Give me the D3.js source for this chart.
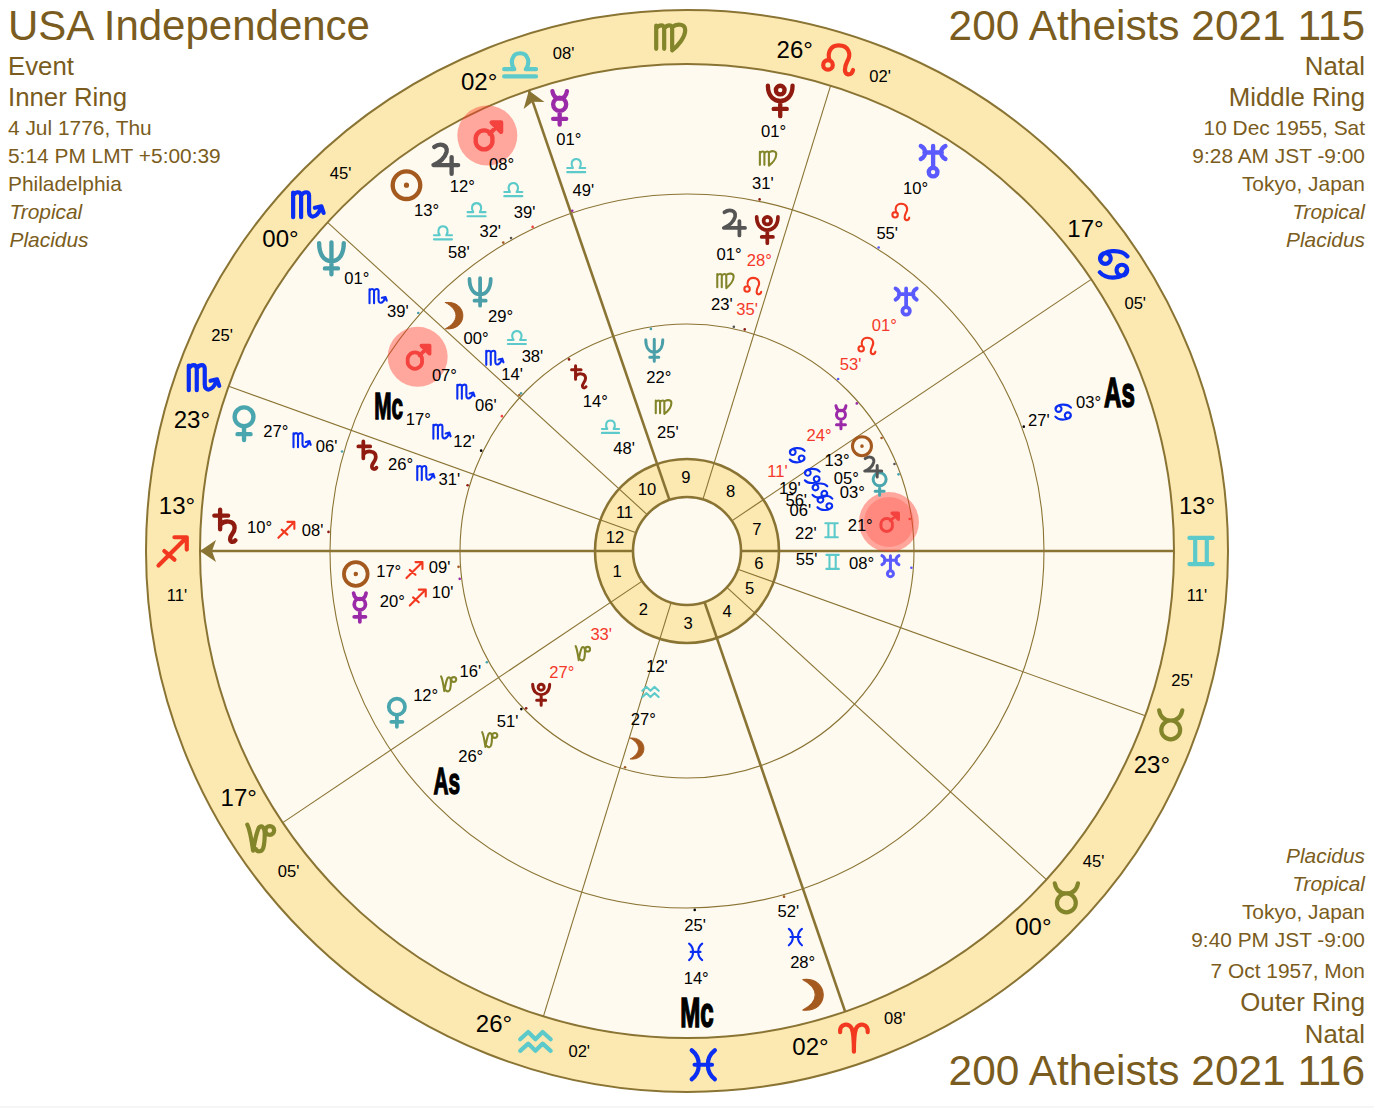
<!DOCTYPE html>
<html><head><meta charset="utf-8">
<script src="https://cdn.jsdelivr.net/npm/d3@7"></script>
<style>
html,body{margin:0;padding:0;background:#fff}
svg{display:block}
text{font-family:"Liberation Sans",Arimo,Helvetica,sans-serif}
</style></head><body><svg id="c" width="1374" height="1108"></svg>
<script>
// ---------- data ----------
const signNames=["Ari","Tau","Gem","Can","Leo","Vir","Lib","Sco","Sag","Cap","Aqu","Pis"];
const houseNumbers=[1,2,3,4,5,6,7,8,9,10,11,12];
const cuspSigns=["Sag","Cap","Aqu","Ari","Tau","Tau","Gem","Can","Leo","Lib","Sco","Sco"];
const cuspDegrees=[13,17,26,2,0,23,13,17,26,2,0,23];
const cuspMinutes=[11,5,2,8,45,25,11,5,2,8,45,25];
const interceptedSigns=["Vir","Pis"];

const outerBodies=["Nep","Ven","Sat","Sun","Jup","Mar","Mer","Plu","Ura","As","Mc","Moo"];
const outerSigns=["Sco","Sco","Sag","Lib","Lib","Lib","Lib","Vir","Leo","Can","Pis","Pis"];
const outerDegrees=[1,27,10,13,12,8,1,1,10,3,14,28];
const outerMinutes=[39,6,8,58,32,39,49,31,55,27,25,52];
const outerRetro=[];
const outerSpread=[2,0,0,6.7,2.3,0.2,-2.6,0,0,0,0,0];

const middleBodies=["Mar","Moo","Nep","Mc","Sat","Sun","Mer","Ven","As","Plu","Jup","Ura"];
const middleSigns=["Sco","Sco","Lib","Sco","Sco","Sag","Sag","Cap","Cap","Leo","Vir","Leo"];
const middleDegrees=[7,0,29,17,26,17,20,12,26,28,1,1];
const middleMinutes=[6,14,38,12,31,9,10,16,51,35,23,53];
const middleRetro=["Plu","Ura"];
const middleSpread=[0.3,-2.2,-7.9,0,0,0,2.8,0,0,0.6,3.7,0];

const innerBodies=["Nep","Sat","Moo","Plu","Mar","Ura","Ven","Jup","Sun","Mer"];
const innerSigns=["Vir","Lib","Aqu","Cap","Gem","Gem","Can","Can","Can","Can"];
const innerDegrees=[22,14,27,27,21,8,3,5,13,24];
const innerMinutes=[25,48,12,33,22,55,6,56,19,11];
const innerRetro=["Plu","Mer"];
const innerSpread=[0,0,1.5,0,0,0,-0.7,1.7,0.8,0];

const leftLines=["USA Independence","Event","Inner Ring","4 Jul 1776, Thu","5:14 PM LMT +5:00:39","Philadelphia","Tropical","Placidus"];
const topRightLines=["200 Atheists 2021 115","Natal","Middle Ring","10 Dec 1955, Sat","9:28 AM JST -9:00","Tokyo, Japan","Tropical","Placidus"];
const bottomRightLines=["Placidus","Tropical","Tokyo, Japan","9:40 PM JST -9:00","7 Oct 1957, Mon","Outer Ring","Natal","200 Atheists 2021 116"];

// ---------- style / layout ----------
const svg=d3.select("#c");
const cx=687,cy=551;
const R={outer:541,zod:487,mid:357,inner:227,house:92,hole:54};
const LINE="#8a7434",RING="#fce8b1",CREAM="#fffaef",TITLE="#7a5c20",RED="#f4392b";
const elementColor=["#f2391f","#83852b","#5ccaca","#0a2df2"];
const bodyColor={Sun:"#a4591f",Moo:"#a4591f",Mer:"#9a2aa8",Ven:"#4aa6ae",Mar:"#f4423f",Jup:"#555555",Sat:"#8f1a10",Ura:"#5a5aff",Nep:"#4a9fa8",Plu:"#8f1a10",As:"#000",Mc:"#000"};

const signIndex=s=>signNames.indexOf(s);
const lon=(s,d,m)=>signIndex(s)*30+d+m/60;
const asc=lon(cuspSigns[0],cuspDegrees[0],cuspMinutes[0]);
const angle=d3.scaleLinear().domain([asc,asc+360]).range([Math.PI,Math.PI-2*Math.PI]);
const pol=(L,r)=>{const a=angle(L);return [cx+r*Math.cos(a),cy+r*Math.sin(a)];};
const signColor=s=>elementColor[signIndex(s)%4];

const signPaths={
 Ari:"M-9.5 -3.5C-10 -9 -3.5 -10.5 -1.5 -6C-.3 -3 0 1 0 10M9.5 -3.5C10 -9 3.5 -10.5 1.5 -6C.3 -3 0 1 0 10",
 Tau:"M-8 -10C-7 -5 -4 -3 0 -3C4 -3 7 -5 8 -10M6.5 3.5A6.5 6.5 0 1 1 -6.5 3.5A6.5 6.5 0 1 1 6.5 3.5",
 Gem:"M-8 -9H8M-8 9H8M-4 -9V9M4 -9V9",
 Can:"M-9 -4C-8 -10 5 -11 9.5 -5.5M-2 -4A3.7 3.7 0 1 1 -9.4 -4A3.7 3.7 0 1 1 -2 -4M9 4C8 10 -5 11 -9.5 5.5M9.4 4A3.7 3.7 0 1 1 2 4A3.7 3.7 0 1 1 9.4 4",
 Leo:"M-4 3.5A3.3 3.3 0 1 1 -10.6 3.5A3.3 3.3 0 1 1 -4 3.5M-6 .5C-8 -4 -6 -10 0 -10C7 -10 9 -4 6 1C4 5 3.5 9.5 6.5 10C8.5 10.2 9.5 9 10 7",
 Vir:"M-10 -8V8M-10 -6C-8 -9 -4.5 -9 -4.5 -6V8M-4.5 -6C-2.5 -9 1 -9 1 -6V8M1 -7C4 -9.5 10 -9.5 10 -5C10 0 5 6 1 9",
 Lib:"M-11 8H11M-11 3H-4C-7 -1 -6 -8 0 -8C6 -8 7 -1 4 3H11",
 Sco:"M-10 -8V9M-10 -6C-8 -9 -5 -9 -4.5 -6V9M-4.5 -6C-2.5 -9 1 -9 1 -6V5C1 10 6 10 9 3M5 2.5L9.5 1.5L11 6",
 Sag:"M-10 10L9 -9M1 -9.5H9.5V-1M-6 0L1 6",
 Cap:"M-9 -9C-7 -5 -6 2 -5 9C-4 3 -3 -3 -1 -7C1 -9 3 -7 3 -3C3 1 3 4 2 7C1 10 -2 10 -3 8M9.5 -5A3 3 0 1 1 3.5 -5A3 3 0 1 1 9.5 -5",
 Aqu:"M-10.5 -2L-5 -7L0 -2L5 -7L10.5 -2M-10.5 6L-5 1L0 6L5 1L10.5 6",
 Pis:"M-8 -10C-1.5 -5 -1.5 5 -8 10M8 -10C1.5 -5 1.5 5 8 10M-6 0H6"};
const bodyPaths={
 Sun:"M9.5 0A9.5 9.5 0 1 1 -9.5 0A9.5 9.5 0 1 1 9.5 0M.3 0A.3 .3 0 1 1 -.3 0A.3 .3 0 1 1 .3 0",
 Moo:"M-6 -10.5C3 -11.5 8 -6 8 0C8 6 3 11.5 -6 10.5C-1 8 2.5 4 2.5 0C2.5 -4 -1 -8 -6 -10.5Z",
 Mer:"M-5 -11.5C-4.5 -8 -2.5 -6.5 0 -6.5C2.5 -6.5 4.5 -8 5 -11.5M4.5 -2.5A4.5 4.5 0 1 1 -4.5 -2.5A4.5 4.5 0 1 1 4.5 -2.5M0 2V11.5M-4.5 7.5H4.5",
 Ven:"M6.5 -4.5A6.5 6.5 0 1 1 -6.5 -4.5A6.5 6.5 0 1 1 6.5 -4.5M0 2V11.5M-4.5 7.5H4.5",
 Mar:"M3.5 3A5.8 5.8 0 1 1 -8 3A5.8 5.8 0 1 1 3.5 3M1.5 -1.2L8.5 -8M3 -9H9.5V-2.5L3 -9Z",
 Jup:"M-7.5 -8C-3.5 -11 2 -9.5 1 -4.5C0 -.5 -4 3 -8 4.5H9M4.5 -1V10.5",
 Sat:"M-4.5 -11.5V2M-8.5 -7.5H1M-4.5 -1C-2 -4.5 5.5 -4.5 5.5 1C5.5 5 1.5 6 2.5 9.5C3 11 5 11 6 9.5",
 Ura:"M-8.5 -10.5C-4.5 -8.5 -4.5 -3.5 -8.5 -1.5M8.5 -10.5C4.5 -8.5 4.5 -3.5 8.5 -1.5M-6 -6H6M0 -10.5V4.5M3 7.5A3 3 0 1 1 -3 7.5A3 3 0 1 1 3 7.5",
 Nep:"M-8.5 -10C-8.5 -2 -5 2.5 0 2.5C5 2.5 8.5 -2 8.5 -10M0 -10.5V11.5M-4.5 7.5H4.5",
 Plu:"M-8.5 -9.5C-8.5 -2 -4 1 0 1C4 1 8.5 -2 8.5 -9.5M3 -6.5A3 3 0 1 1 -3 -6.5A3 3 0 1 1 3 -6.5M0 1V11.5M-4.5 6.5H4.5"};

// ---------- background ----------
svg.append("rect").attr("x",0).attr("y",1106).attr("width",1374).attr("height",2).attr("fill","#f6f6f6");
const c=svg.append("g").attr("transform",`translate(${cx},${cy})`);
const arc=d3.arc();
c.append("circle").attr("r",R.zod).attr("fill",CREAM);
c.append("path").attr("d",arc({innerRadius:R.zod,outerRadius:R.outer,startAngle:0,endAngle:2*Math.PI})).attr("fill",RING);
c.append("path").attr("d",arc({innerRadius:R.hole,outerRadius:R.house,startAngle:0,endAngle:2*Math.PI})).attr("fill",RING);

// ---------- cusps ----------
const cuspLon=cuspSigns.map((s,i)=>lon(s,cuspDegrees[i],cuspMinutes[i]));
const axisCusp=i=>i%3===0;
svg.selectAll("line.cusp").data(cuspLon).join("line").attr("class","cusp")
 .attr("x1",d=>pol(d,R.hole)[0]).attr("y1",d=>pol(d,R.hole)[1])
 .attr("x2",d=>pol(d,R.zod)[0]).attr("y2",d=>pol(d,R.zod)[1])
 .attr("stroke",LINE).attr("stroke-width",(d,i)=>axisCusp(i)?2.6:1.1);
[0,9].forEach(i=>{
 const [x,y]=pol(cuspLon[i],R.zod);
 const rot=Math.atan2(y-cy,x-cx)*180/Math.PI;
 svg.append("path").attr("transform",`translate(${x},${y}) rotate(${rot})`)
  .attr("d","M0 0L-16 -11L-12 0L-16 11Z").attr("fill",LINE);
});
[[R.outer,2],[R.zod,2],[R.mid,1.1],[R.inner,1.1],[R.house,2.6],[R.hole,2.6]].forEach(([r,w])=>{
 c.append("circle").attr("r",r).attr("fill","none").attr("stroke",LINE).attr("stroke-width",w);
});

// ---------- houses ----------
const houseMid=i=>{const a=cuspLon[i],b=cuspLon[(i+1)%12];return a+(((b-a)%360+360)%360)/2;};
svg.selectAll("text.house").data(houseNumbers).join("text").attr("class","house")
 .attr("x",(d,i)=>pol(houseMid(i),73)[0]).attr("y",(d,i)=>pol(houseMid(i),73)[1])
 .attr("dy",".3em").attr("text-anchor","middle").attr("font-size",16.6).attr("fill","#000").text(d=>d);

// ---------- glyph helper ----------
function drawGlyph(d,x,y,k,color,w,filled){
 svg.append("path").attr("transform",`translate(${x},${y}) scale(${k})`).attr("d",d)
  .attr("fill",filled?color:"none").attr("stroke",color).attr("stroke-width",w/k)
  .attr("stroke-linecap","round").attr("stroke-linejoin","round");
}
function label(x,y,t,size,color){
 svg.append("text").attr("x",x).attr("y",y).attr("dy",".3em").attr("text-anchor","middle")
  .attr("font-size",size).attr("fill",color).text(t);
}
const pad=n=>String(n).padStart(2,"0");

// ---------- zodiac ring labels ----------
const zodR=514;
cuspLon.forEach((L,i)=>{
 const side=i<6?-1:1;
 const g=pol(L,zodR),dp=pol(L+side*5,512),mp=pol(L-side*5,512);
 drawGlyph(signPaths[cuspSigns[i]],g[0],g[1],1.45,signColor(cuspSigns[i]),4.2);
 label(dp[0],dp[1],pad(cuspDegrees[i])+"°",24,"#000");
 label(mp[0],mp[1],pad(cuspMinutes[i])+"'",16.6,"#000");
});
interceptedSigns.forEach(s=>{
 const g=pol(signIndex(s)*30+15,zodR);
 drawGlyph(signPaths[s],g[0],g[1],1.45,signColor(s),4.2);
});

// ---------- bodies ----------
function ring(bodies,signs,degs,mins,retro,spread,opt){
 bodies.forEach((b,i)=>{
  const L=lon(signs[i],degs[i],mins[i]);
  const D=L+spread[i];
  const col=retro.includes(b)?RED:"#000";
  const tick=pol(L,opt.tick);
  svg.append("circle").attr("cx",tick[0]).attr("cy",tick[1]).attr("r",1.3).attr("fill",bodyColor[b]);
  const g=pol(D,opt.glyph),dp=pol(D,opt.deg),sp=pol(D,opt.sign),mp=pol(D,opt.min);
  if(b==="Mar"){
   opt.halo.forEach((r,j)=>svg.append("circle").attr("cx",g[0]).attr("cy",g[1]).attr("r",r)
     .attr("fill","#ff3b30").attr("fill-opacity",j?.27:.43));
  }
  if(b==="As"||b==="Mc"){
   const k=opt.k/1.45;
   svg.append("text").attr("transform",`translate(${g[0]},${g[1]}) scale(${0.56*k},${k})`)
    .attr("dy",".36em").attr("text-anchor","middle").attr("font-size",43).attr("font-weight","bold")
    .attr("fill","#000").attr("stroke","#000").attr("stroke-width",1.6).text(b);
  } else if(b==="Moo"){
   drawGlyph(bodyPaths[b],g[0],g[1],opt.k,bodyColor[b],opt.k*.8,true);
  } else {
   drawGlyph(bodyPaths[b],g[0],g[1],opt.k,bodyColor[b],opt.k*3,false);
  }
  label(dp[0],dp[1],pad(degs[i])+"°",16.6,col);
  drawGlyph(signPaths[signs[i]],sp[0],sp[1],opt.sk,signColor(signs[i]),2.1);
  label(mp[0],mp[1],pad(mins[i])+"'",16.6,col);
 });
}
ring(outerBodies,outerSigns,outerDegrees,outerMinutes,outerRetro,outerSpread,
 {tick:359,glyph:461,deg:428,sign:401,min:375,k:1.45,sk:.82,halo:[30]});
ring(middleBodies,middleSigns,middleDegrees,middleMinutes,middleRetro,middleSpread,
 {tick:229,glyph:332,deg:299,sign:273,min:248,k:1.25,sk:.82,halo:[30]});
ring(innerBodies,innerSigns,innerDegrees,innerMinutes,innerRetro,innerSpread,
 {tick:225,glyph:204,deg:175,sign:146,min:120,k:1.0,sk:.78,halo:[30,25]});

// ---------- captions ----------
const headerSizes=[42,25.8,25.8,20.9,20.9,20.9,20.9,20.9];
const headerBase=[40,75,106,135,163,191,219,247];
const italicFrom=6;
function headers(lines,x,anchor,titleSize){
 svg.selectAll(null).data(lines).join("text").attr("x",(d,i)=>i>=italicFrom&&anchor==="start"?x+1.5:x)
  .attr("y",(d,i)=>headerBase[i]).attr("text-anchor",anchor).attr("fill",TITLE)
  .attr("font-size",(d,i)=>i?headerSizes[i]:titleSize).attr("font-style",(d,i)=>i>=italicFrom?"italic":"normal").text(d=>d);
}
headers(leftLines,8,"start",42);
headers(topRightLines,1365,"end",42.4);
const brSizes=[20.9,20.9,20.9,20.9,20.9,25.8,25.8,42.4];
const brBase=[863,891,919,947,978,1011,1043,1085];
svg.selectAll(null).data(bottomRightLines).join("text").attr("x",1365).attr("y",(d,i)=>brBase[i])
 .attr("text-anchor","end").attr("fill",TITLE).attr("font-size",(d,i)=>brSizes[i])
 .attr("font-style",(d,i)=>i<2?"italic":"normal").text(d=>d);
</script></body></html>
